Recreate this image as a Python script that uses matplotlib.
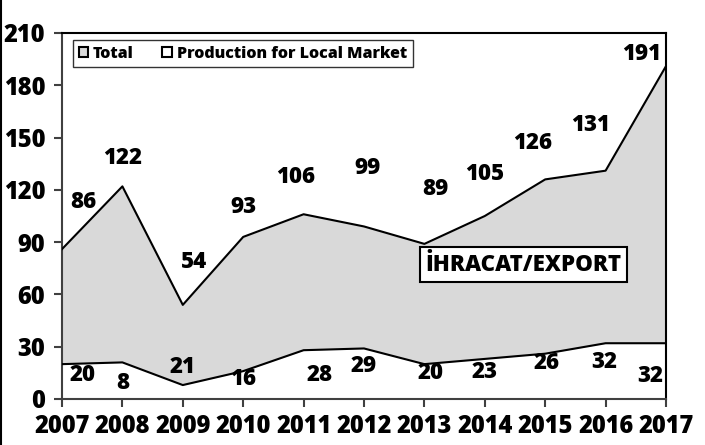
import matplotlib
matplotlib.use("Agg")
import matplotlib.pyplot as plt
from matplotlib.patches import Patch
from matplotlib.lines import Line2D

plt.rcParams["font.family"] = ["Open Sans", "DejaVu Sans"]

years = [2007, 2008, 2009, 2010, 2011, 2012, 2013, 2014, 2015, 2016, 2017]
total = [86, 122, 54, 93, 106, 99, 89, 105, 126, 131, 191]
local = [20, 21, 8, 16, 28, 29, 20, 23, 26, 32, 32]
total_labels = ["86", "122", "54", "93", "106", "99", "89", "105", "126", "131", "191"]
local_labels = ["20", "8", "21", "16", "28", "29", "20", "23", "26", "32", "32"]
yticks = [0, 30, 60, 90, 120, 150, 180, 210]

# label placement (x in years, y in data units)
total_lab_x = [2007.35, 2008.0, 2009.18, 2010.0, 2010.86, 2012.05, 2013.18, 2014.0, 2014.8, 2015.76, 2016.6]
total_lab_y = [113, 138, 78.5, 110, 127.5, 132.5, 120.5, 129, 147, 157, 198]
local_lab_x = [2007.34, 2008.0, 2009.0, 2010.0, 2011.27, 2012.0, 2013.1, 2014.0, 2015.02, 2015.98, 2016.74]
local_lab_y = [14, 9, 18.5, 11.5, 13.5, 19, 15, 15.5, 20.5, 21.5, 13]

W = 800  # heavy weight

fig = plt.figure(figsize=(7.05, 4.45), dpi=100)
ax = fig.add_axes([62/705, 1-399/445, (666-62)/705, (399-33)/445])

ax.fill_between(years, 0, total, color="#d9d9d9", zorder=1, lw=0)
ax.fill_between(years, 0, local, color="white", zorder=2, lw=0)
ax.plot(years, total, color="black", lw=1.5, zorder=3)
ax.plot(years, local, color="black", lw=1.5, zorder=3)

ax.set_xlim(2007, 2017)
ax.set_ylim(0, 210)
ax.set_yticks(yticks)
ax.set_xticks(years)
ax.set_xticklabels([str(y) for y in years])
for s in ["top", "right"]:
    ax.spines[s].set_color("black")
    ax.spines[s].set_linewidth(1.5)
for s in ["left", "bottom"]:
    ax.spines[s].set_color("#404040")
    ax.spines[s].set_linewidth(1.5)
ax.tick_params(axis="both", direction="out", length=6, width=1.5, color="#404040",
               labelsize=17)
ax.tick_params(axis="x", pad=5)
ax.tick_params(axis="y", pad=6)
for t in ax.get_xticklabels() + ax.get_yticklabels():
    t.set_fontweight(W)

for i in range(len(years)):
    ax.text(total_lab_x[i], total_lab_y[i], total_labels[i], ha="center", va="center",
            fontsize=16, fontweight=W, zorder=5)
    ax.text(local_lab_x[i], local_lab_y[i], local_labels[i], ha="center", va="center",
            fontsize=16, fontweight=W, zorder=5)

handles = [Patch(facecolor="#d9d9d9", edgecolor="black", lw=1.5, label="Total"),
           Patch(facecolor="white", edgecolor="black", lw=1.5, label="Production for Local Market")]
leg = ax.legend(handles=handles, loc="upper left", bbox_to_anchor=(11/604, 1-7/366), ncol=2,
                frameon=True, fancybox=False, edgecolor="black",
                prop={"weight": W, "size": 11.5}, handlelength=0.6, handleheight=0.6,
                handletextpad=0.3, columnspacing=1.8, borderpad=0.35, borderaxespad=0)
leg.get_frame().set_linewidth(1.0)

ax.text(2014.64, 77, "İHRACAT/EXPORT", ha="center", va="center", fontsize=16,
        fontweight=W, zorder=6,
        bbox=dict(boxstyle="square,pad=0.25", facecolor="white", edgecolor="black", lw=1.5))

fig.add_artist(Line2D([0.5/705, 0.5/705], [0, 1], transform=fig.transFigure,
                      color="black", lw=1.5))

fig.savefig("out.png", dpi=100)
